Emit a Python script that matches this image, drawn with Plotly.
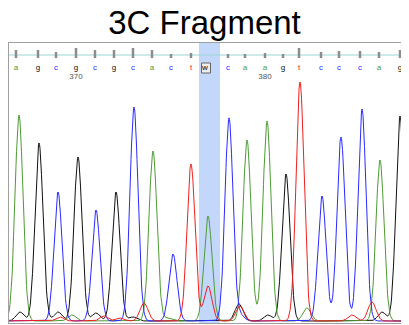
import numpy as np
import plotly.graph_objects as go

# ---- data ----
bases = list("agcgcgcactwcaagtcccag")
label_x = [16, 38, 56, 76, 95, 114, 133, 152, 171, 191, 205, 228, 245, 265, 283, 299, 321, 339, 360, 379, 400]
quality = [8, 8, 6, 10, 8, 8, 10, 8, 4, 5, 0, 4, 4, 5, 4, 10, 6, 7, 7, 6, 8]
pos_labels = ["370", "380"]
pos_label_x = [76, 265]

peak_channel = ["a", "g", "c", "g", "c", "g", "c", "a", "c", "t", "a", "t", "c", "a", "a", "g", "t", "c", "c", "c", "a", "g"]
peak_x = [19, 39, 58, 78, 96, 116, 134, 153, 173, 191, 208, 208, 229, 247, 267, 286, 300, 322, 341, 362, 380, 400]
peak_h = [206, 178, 129, 164, 111, 129, 214, 170, 67, 157, 105, 35, 203, 181, 200, 147, 239, 125, 184, 212, 161, 205]

minor_channel = ["g", "g", "g", "g", "g", "g", "g", "t", "t", "t", "t", "t", "t", "t", "a", "a", "a", "c"]
minor_x = [20, 58, 96, 133, 239, 268, 382, 144, 104, 60, 240, 352, 372, 120, 72, 307, 168, 240]
minor_h = [9, 9, 8, 4, 17, 6, 9, 18, 5, 4, 15, 6, 19, 3, 6, 13, 3, 6]

colors = {"a": "#4f9a35", "c": "#2a2aff", "g": "#111111", "t": "#ee2020", "w": "#000000"}
names = {"a": "A", "c": "C", "g": "G", "t": "T"}

sigma = 4.0
xs = np.arange(0, 416, 0.5)

fig = go.Figure()

for ch in ["g", "a", "c", "t"]:
    ys = np.zeros_like(xs)
    for c, px, h in zip(peak_channel + minor_channel, peak_x + minor_x, peak_h + minor_h):
        if c == ch:
            ys += h * np.exp(-((xs - px) ** 2) / (2 * sigma ** 2))
    fig.add_trace(go.Scatter(x=xs, y=ys, mode="lines", name=names[ch],
                             line=dict(color=colors[ch], width=1), hoverinfo="skip"))

# quality bars
fig.add_trace(go.Bar(x=label_x, y=quality, base=263, width=2.5,
                     marker=dict(color="#8c8c8c", line=dict(width=0)), hoverinfo="skip"))

# base calls
fig.add_trace(go.Scatter(x=label_x, y=[253] * len(bases), mode="text", text=bases,
                         textfont=dict(size=8, color=[colors[b] for b in bases], family="Liberation Sans"),
                         hoverinfo="skip"))
# position numbers
fig.add_trace(go.Scatter(x=pos_label_x, y=[244] * len(pos_labels), mode="text", text=pos_labels,
                         textfont=dict(size=8, color="#555555", family="Liberation Sans"),
                         hoverinfo="skip"))

shapes = [
    dict(type="rect", xref="x", yref="paper", x0=199, x1=220, y0=0, y1=1,
         fillcolor="#c3d7fb", line=dict(width=0), layer="below"),
    dict(type="line", xref="paper", yref="y", x0=0, x1=1, y0=266, y1=266,
         line=dict(color="#9ad6d6", width=1), layer="below"),
    dict(type="rect", xref="x", yref="y", x0=201.5, x1=210.5, y0=248, y1=258,
         fillcolor="#eeeeee", line=dict(color="#666666", width=1), layer="below"),
]

# the page places the figure 8px in from the top-left corner
fig.update_layout(
    width=401, height=317,
    margin=dict(l=1, r=0, t=35, b=2),
    paper_bgcolor="white", plot_bgcolor="white",
    showlegend=False,
    barmode="overlay",
    title=dict(text="3C Fragment", x=0.49, xanchor="center", y=0.955, yanchor="middle",
               font=dict(family="Liberation Sans", size=33, color="#000000")),
    shapes=shapes,
    xaxis=dict(range=[9, 409], showgrid=False, zeroline=False, showticklabels=False, ticks="",
               showline=True, mirror=True, linecolor="#a0a0a0", linewidth=1),
    yaxis=dict(range=[-2, 278], showgrid=False, zeroline=False, showticklabels=False, ticks="",
               showline=True, linecolor="#a0a0a0", linewidth=1),
)

fig.write_html("out.html")
